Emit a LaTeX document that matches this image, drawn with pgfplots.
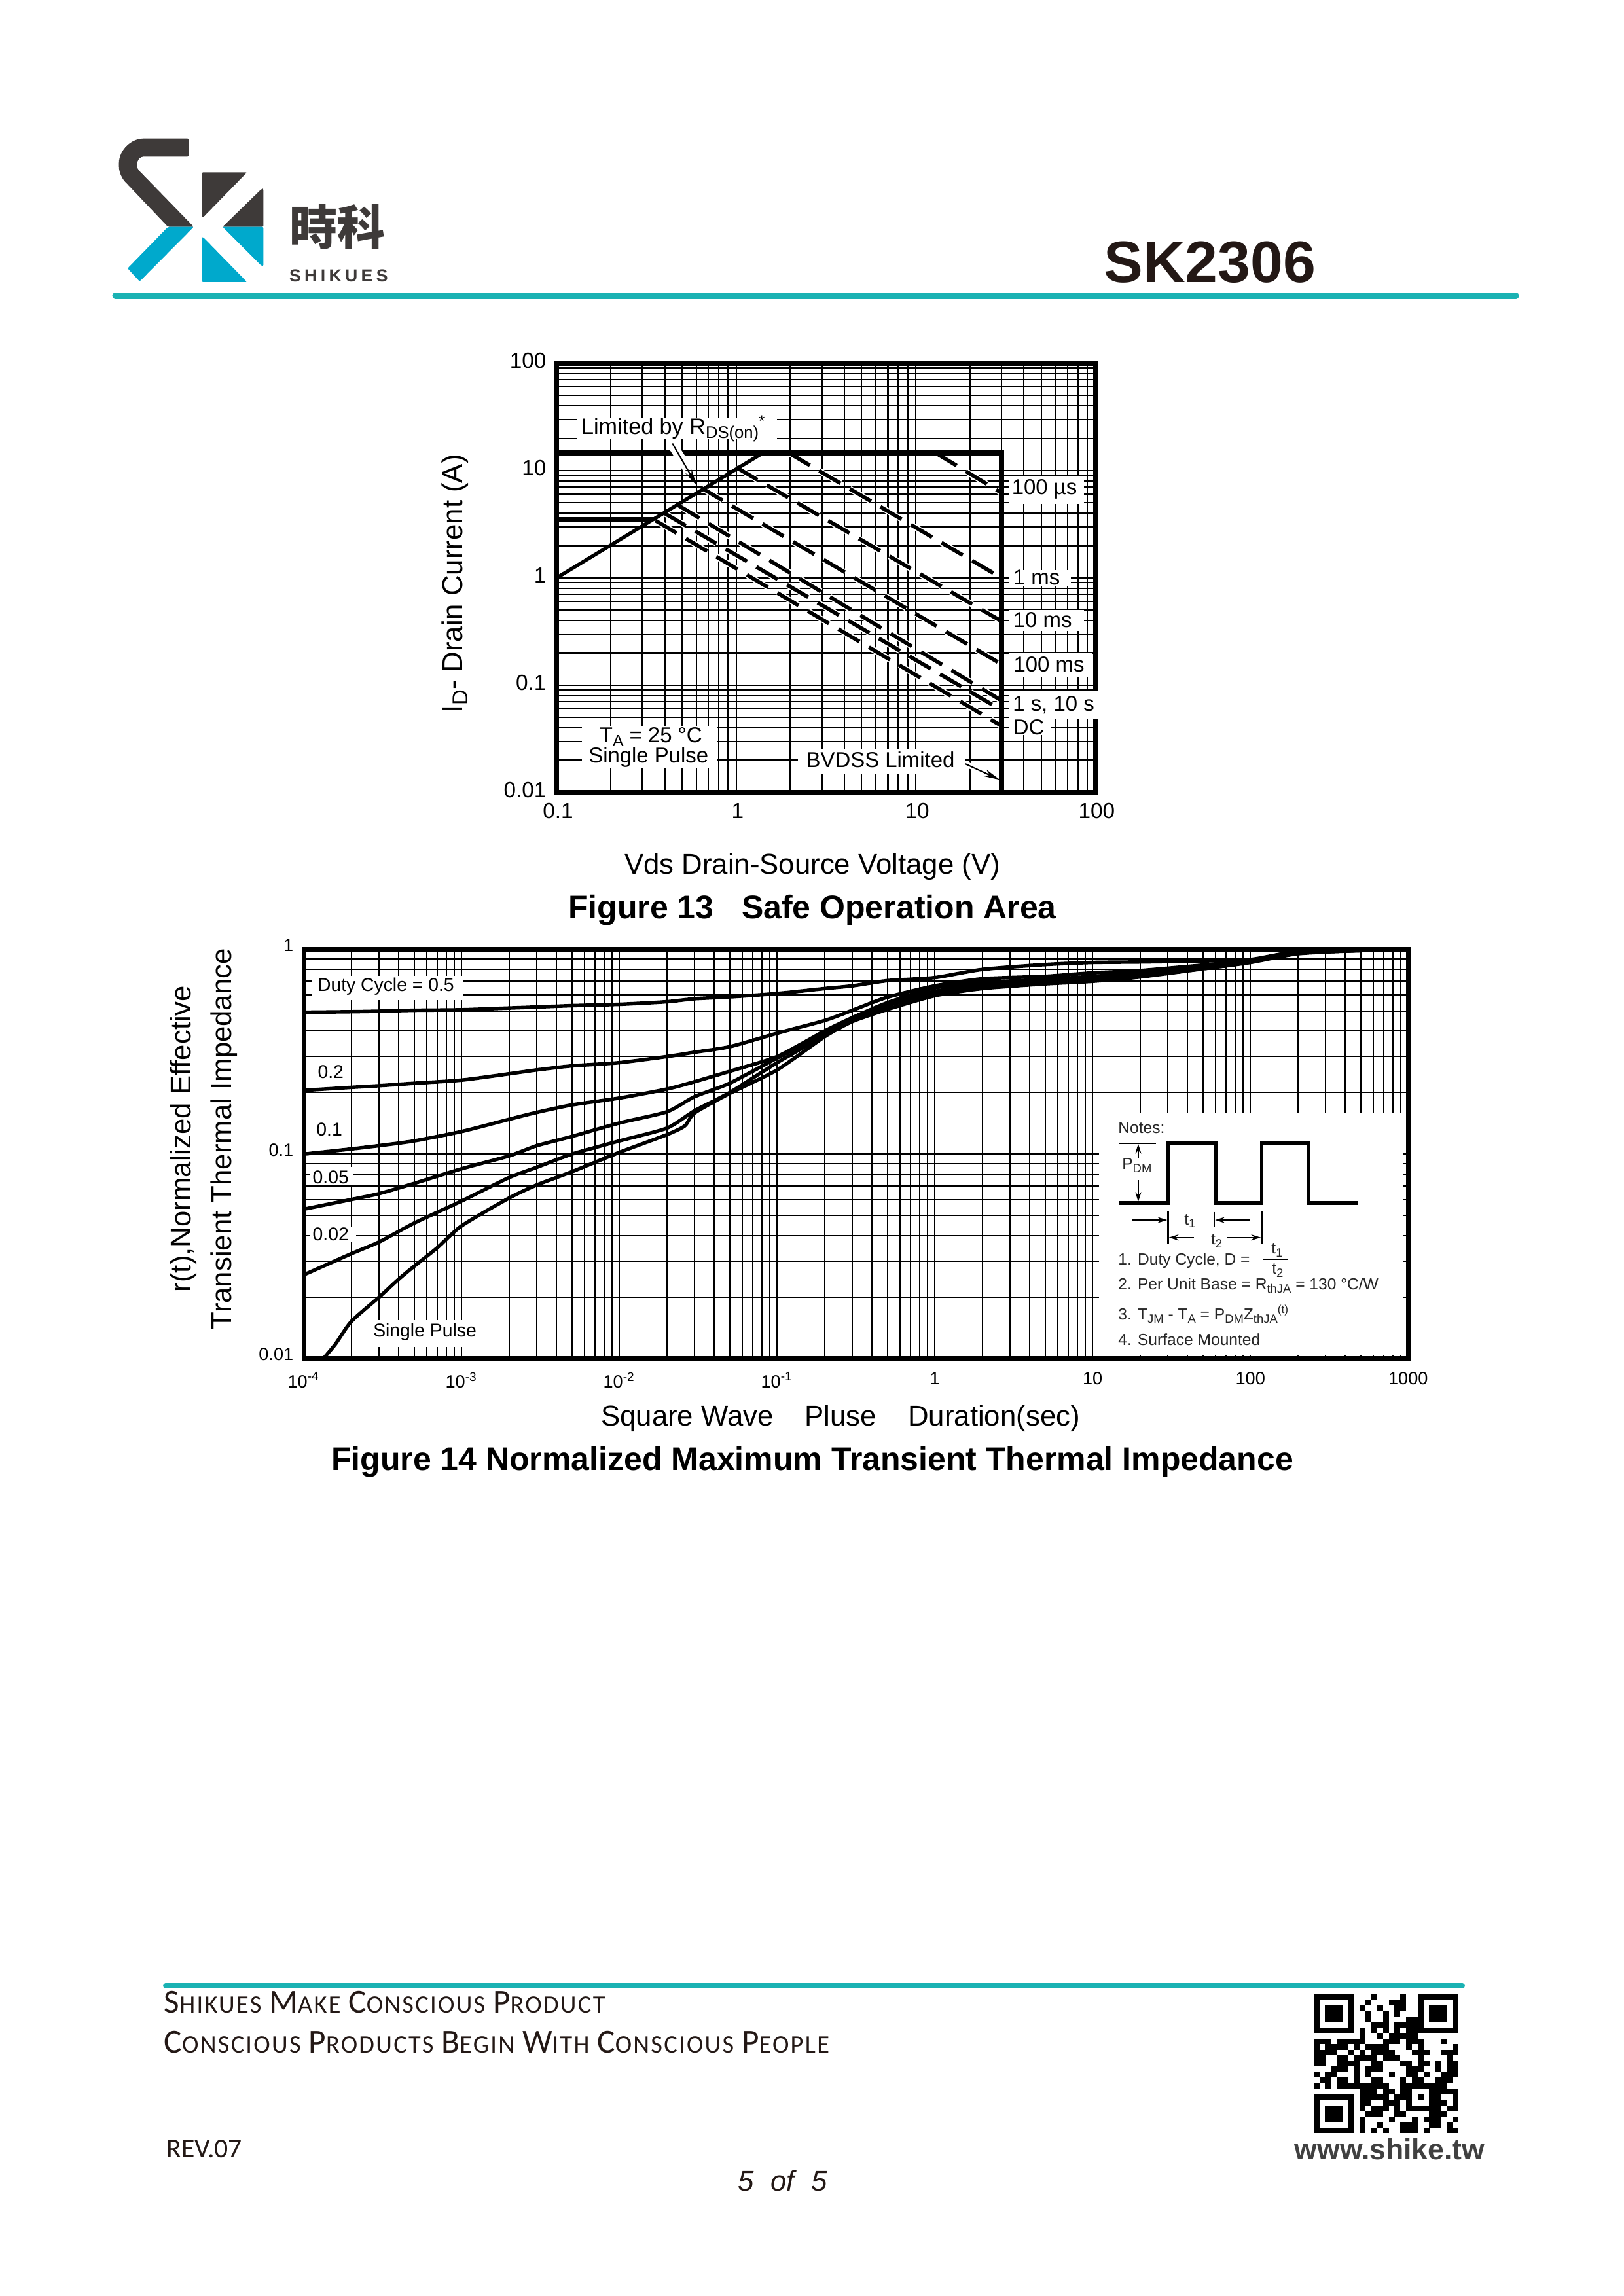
\documentclass[border=0pt]{standalone}
\usepackage{graphicx}
\usepackage{fontspec}
\usepackage{pgfplots}
\usepackage{pgfplotstable}
\pgfplotsset{compat=1.18}
\usetikzlibrary{arrows.meta}
\setmainfont{Liberation Sans}
\newfontfamily\cjk{Noto Sans CJK TC}
\newfontfamily\carlito[LetterSpace=6]{Carlito}
\newfontfamily\carlitoplain{Carlito}
\newfontfamily\logofont[LetterSpace=20]{Liberation Sans Bold}
\newcommand\fs[1]{\fontsize{#1}{#1}\selectfont}
\newcommand\sub[1]{\raisebox{-.35ex}{\scalebox{.75}{#1}}}
\definecolor{teal1}{HTML}{1AB2B3}
\definecolor{lgdark}{HTML}{3E3A39}
\definecolor{lgblue}{HTML}{00A9CC}
\definecolor{titlec}{HTML}{231815}
\pgfplotstableread{
x d5 d2 d1 d05 d02
1e-4 .494 .205 .1 .0538 .0257
2e-4 .497 .212 .106 .06 .0326
3e-4 .5 .216 .110 .0641 .0372
5e-4 .505 .222 .116 .0719 .046
1e-3 .508 .23 .129 .0848 .059
2e-3 .518 .247 .148 .098 .0768
3e-3 .524 .258 .160 .11 .0862
5e-3 .532 .27 .174 .122 .1
1e-2 .54 .28 .188 .142 .116
2e-2 .556 .30 .208 .161 .134
3e-2 .575 .315 .226 .191 .163
5e-2 .587 .335 .254 .222 .2
1e-1 .61 .39 .30 .295 .28
2e-1 .645 .45 .40 .39 .38
3e-1 .665 .505 .465 .46 .45
5e-1 .705 .585 .55 .54 .53
1 .73 .665 .65 .625 .615
2 .80 .72 .69 .675 .655
5 .845 .74 .715 .705 .69
10 .865 .77 .74 .725 .71
20 .87 .79 .77 .755 .745
50 .88 .84 .83 .82 .81
100 .895 .885 .88 .875 .87
200 .98 .97 .965 .96 .96
500 .995 .99 .99 .99 .99
1000 1 1 1 1 1
}\zthtable
\pgfplotstableread{
x y
1.33e-4 .01
1.59e-4 .0118
2e-4 .0152
3e-4 .02
4e-4 .0245
5e-4 .0283
7e-4 .0348
1e-3 .0446
2e-3 .061
3e-3 .0707
5e-3 .082
1e-2 .102
2e-2 .1245
2.6e-2 .1375
3e-2 .159
5e-2 .198
1e-1 .258
2e-1 .375
3e-1 .445
5e-1 .51
1 .595
2 .645
5 .68
10 .70
20 .735
50 .805
100 .865
200 .955
500 .99
1000 1
}\zthsingle
\begin{document}
\begin{tikzpicture}
\useasboundingbox (0pt,0pt) rectangle (595.2pt,-841.92pt);
% --- Figure 13
\begin{axis}[scale only axis,xmode=log,ymode=log,
  axis line style={line width=1.7pt},
  grid=both,
  major grid style={black,line width=.5pt},
  minor grid style={black,line width=.5pt},
  major tick length=0pt,minor tick length=0pt,
  tick style={draw=none},
  at={(204.1pt,-290.6pt)},anchor=south west,width=197.5pt,height=157.4pt,
  xmin=0.1,xmax=100,ymin=0.01,ymax=100,
  xtick={0.1,1,10,100},xticklabels={0.1,1,10,100},
  ytick={0.01,0.1,1,10,100},yticklabels={0.01,0.1,1,10,100},
  minor xtick={.2,.3,.4,.5,.6,.7,.8,.9,2,3,4,5,6,7,8,9,20,30,40,50,60,70,80,90},
  minor ytick={.02,.03,.04,.05,.06,.07,.08,.09,.2,.3,.4,.5,.6,.7,.8,.9,2,3,4,5,6,7,8,9,20,30,40,50,60,70,80,90},
  xticklabel style={font=\fs{8},yshift=-.4pt,xshift=.5pt},
  yticklabel style={font=\fs{8},yshift=1pt,xshift=-.3pt},
]
\addplot[white,line width=2.2pt,dash pattern=on 9pt off 4pt] coordinates {(12.9,14.6)(30,6.2)};
\addplot[white,line width=2.2pt,dash pattern=on 9pt off 4pt] coordinates {(1.96,14.6)(30,1)};
\addplot[white,line width=2.2pt,dash pattern=on 9pt off 4pt] coordinates {(1,10.7)(30,.395)};
\addplot[white,line width=2.2pt,dash pattern=on 9pt off 4pt] coordinates {(.64,6.88)(30,.157)};
\addplot[white,line width=2.2pt,dash pattern=on 9pt off 4pt] coordinates {(.476,4.74)(30,.072)};
\addplot[white,line width=2.2pt,dash pattern=on 9pt off 4pt] coordinates {(.399,4)(30,.0587)};
\addplot[white,line width=2.2pt,dash pattern=on 9pt off 4pt] coordinates {(.355,3.42)(30,.0418)};
\addplot[black,line width=1.4pt,dash pattern=on 9pt off 4pt] coordinates {(12.9,14.6)(30,6.2)};
\addplot[black,line width=1.4pt,dash pattern=on 9pt off 4pt] coordinates {(1.96,14.6)(30,1)};
\addplot[black,line width=1.4pt,dash pattern=on 9pt off 4pt] coordinates {(1,10.7)(30,.395)};
\addplot[black,line width=1.4pt,dash pattern=on 9pt off 4pt] coordinates {(.64,6.88)(30,.157)};
\addplot[black,line width=1.4pt,dash pattern=on 9pt off 4pt] coordinates {(.476,4.74)(30,.072)};
\addplot[black,line width=1.4pt,dash pattern=on 9pt off 4pt] coordinates {(.399,4)(30,.0587)};
\addplot[black,line width=1.4pt,dash pattern=on 9pt off 4pt] coordinates {(.355,3.42)(30,.0418)};
\addplot[black,line width=1.3pt] coordinates {(.1,1)(1.41,14.6)};
\addplot[black,line width=1.9pt] coordinates {(.1,14.6)(30,14.6)(30,.01)};
\addplot[black,line width=1.9pt] coordinates {(.1,3.5)(.344,3.5)};
\end{axis}
% --- Figure 14
\begin{axis}[scale only axis,xmode=log,ymode=log,
  axis line style={line width=1.7pt},
  grid=both,
  major grid style={black,line width=.5pt},
  minor grid style={black,line width=.5pt},
  major tick length=0pt,minor tick length=0pt,
  tick style={draw=none},
  at={(111.4pt,-498.2pt)},anchor=south west,width=404.9pt,height=150pt,
  xmin=1e-4,xmax=1000,ymin=0.01,ymax=1,
  xtick={1e-4,1e-3,1e-2,1e-1,1,10,100,1000},
  xticklabels={10\textsuperscript{-4},10\textsuperscript{-3},10\textsuperscript{-2},10\textsuperscript{-1},1,10,100,1000},
  ytick={0.01,0.1,1},yticklabels={0.01,0.1,1},
  minor xtick={2e-4,3e-4,4e-4,5e-4,6e-4,7e-4,8e-4,9e-4,2e-3,3e-3,4e-3,5e-3,6e-3,7e-3,8e-3,9e-3,.02,.03,.04,.05,.06,.07,.08,.09,.2,.3,.4,.5,.6,.7,.8,.9,2,3,4,5,6,7,8,9,20,30,40,50,60,70,80,90,200,300,400,500,600,700,800,900},
  minor ytick={.02,.03,.04,.05,.06,.07,.08,.09,.2,.3,.4,.5,.6,.7,.8,.9},
  xticklabel style={font=\fs{6.5},yshift=-1.5pt},
  yticklabel style={font=\fs{6.5},yshift=1.5pt,xshift=-.3pt},
]
\addplot[black,line width=1.3pt,smooth,tension=.4] table[x=x,y=d5] {\zthtable};
\addplot[black,line width=1.3pt,smooth,tension=.4] table[x=x,y=d2] {\zthtable};
\addplot[black,line width=1.3pt,smooth,tension=.4] table[x=x,y=d1] {\zthtable};
\addplot[black,line width=1.3pt,smooth,tension=.4] table[x=x,y=d05] {\zthtable};
\addplot[black,line width=1.3pt,smooth,tension=.4] table[x=x,y=d02] {\zthtable};
\addplot[black,line width=1.3pt,smooth,tension=.4] table[x=x,y=y] {\zthsingle};
\end{axis}
\begin{scope}[x=.24pt,y=-.24pt]
% header
\begin{scope}[shift={(150,180)},x=.08pt,y=-.08pt]
\fill[lgdark,rounded corners=.5pt] (415,95) -- (215,95) .. controls (150,95) and (95,150) .. (95,215) .. controls (95,250) and (110,280) .. (130,300) -- (320,500) -- (438,500) -- (190,245) .. controls (170,222) and (178,178) .. (215,178) -- (415,178) -- cycle;
\fill[lgblue,rounded corners=.5pt] (320,500) -- (135,690) -- (190,750) -- (438,500) -- cycle;
\fill[lgdark,rounded corners=.5pt] (475,250) -- (682,250) -- (482,455) -- (475,455) -- cycle;
\fill[lgdark,rounded corners=.5pt] (570,500) -- (750,325) -- (757,325) -- (757,500) -- cycle;
\fill[lgblue,rounded corners=.5pt] (570,500) -- (757,500) -- (757,680) -- (750,680) -- cycle;
\fill[lgblue,rounded corners=.5pt] (475,548) -- (482,548) -- (682,753) -- (475,753) -- cycle;
\node[lgdark,font=\cjk\bfseries\fs{17.5}] at (1097,500) {時科};
\node[lgdark,font=\logofont\fs{6.4}] at (1102,724) {SHIKUES};
\end{scope}
\node[anchor=base east,font=\bfseries\fs{21.5},text=titlec,inner sep=0] at (2011,432) {SK2306};
\draw[teal1,line width=2.2pt,line cap=round] (176,452) -- (2316,452);
% Fig 13 text boxes
\begin{scope}[shift={(640,520)},x=.16836pt,y=-.11633pt]
\fill[white] (345,245) rectangle (780,310);
\fill[white] (1285,430) rectangle (1448,515);
\fill[white] (1285,725) rectangle (1420,775);
\fill[white] (1285,850) rectangle (1448,915);
\fill[white] (1285,985) rectangle (1465,1060);
\fill[white] (1285,1105) rectangle (1485,1192);
\fill[white] (1285,1195) rectangle (1375,1245);
\fill[white] (355,1215) rectangle (650,1350);
\fill[white] (825,1288) rectangle (1190,1365);
\draw[white,line width=3.5pt] (552,330) -- (585,405);
\draw[black,line width=.5pt,-{Stealth[length=6pt,width=2.6pt]}] (552,325) -- (605,458);
\draw[white,line width=2pt] (1195,1338) -- (1250,1375);
\draw[black,line width=.5pt,-{Stealth[length=6pt,width=2.6pt]}] (1190,1335) -- (1265,1385);
\node[font=\fs{8.2},inner sep=0] at (555,278) {Limited by R\sub{DS(on)}\textsuperscript{*}};
\node[font=\fs{7.9},inner sep=0] at (1362,470) {100 µs};
\node[font=\fs{7.9},inner sep=0] at (1345,748) {1 ms};
\node[font=\fs{7.9},inner sep=0] at (1358,882) {10 ms};
\node[font=\fs{7.9},inner sep=0] at (1372,1022) {100 ms};
\node[font=\fs{7.9},inner sep=0] at (1382,1150) {1 s, 10 s};
\node[font=\fs{7.9},inner sep=0] at (1328,1220) {DC};
\node[font=\fs{7.9},inner sep=0] at (505,1250) {T\sub{A} = 25 °C};
\node[font=\fs{7.9},inner sep=0] at (500,1315) {Single Pulse};
\node[font=\fs{7.9},inner sep=0] at (1005,1322) {BVDSS Limited};
\end{scope}
% Fig 14 text boxes
\begin{scope}[shift={(400,1420)},x=.16836pt,y=-.1102pt]
\fill[white] (108,155) rectangle (438,235);
\fill[white] (105,790) rectangle (200,850);
\fill[white] (105,990) rectangle (205,1040);
\fill[white] (240,1300) rectangle (470,1390);
\node[font=\fs{6.8},inner sep=0] at (270,190) {Duty Cycle = 0.5};
\node[font=\fs{6.8},inner sep=0] at (150,475) {0.2};
\node[font=\fs{6.8},inner sep=0] at (147,665) {0.1};
\node[font=\fs{6.8},inner sep=0] at (150,825) {0.05};
\node[font=\fs{6.8},inner sep=0] at (150,1015) {0.02};
\node[font=\fs{6.8},inner sep=0] at (355,1340) {Single Pulse};
\end{scope}
\begin{scope}[shift={(1500,1420)},x=.10714pt,y=-.1102pt]
\fill[white] (400,610) rectangle (1440,1415);
\draw[black,line width=1.3pt,line join=miter] (470,910) -- (637,910) -- (637,712) -- (802,712) -- (802,910) -- (957,910) -- (957,712) -- (1116,712) -- (1116,910) -- (1285,910);
\draw[black,line width=.7pt] (468,712) -- (595,712);
\tikzset{na/.style={black,line width=.4pt,-{Stealth[length=3.5pt,width=2.2pt]}}}
\draw[na] (535,760) -- (535,714);
\draw[na] (535,835) -- (535,906);
\draw[na] (515,967) -- (634,967);
\draw[na] (915,967) -- (798,967);
\draw[na] (725,1025) -- (640,1025);
\draw[na] (838,1025) -- (954,1025);
\draw[black,line width=.6pt] (637,938) -- (637,1045);
\draw[black,line width=.6pt] (795,940) -- (795,990);
\draw[black,line width=.6pt] (957,938) -- (957,1045);
\draw[black,line width=.5pt] (963,1097) -- (1045,1097);
\tikzset{nt/.style={font=\fs{5.9},inner sep=0,anchor=west,text=black!85}}
\node[nt] at (465,660) {Notes:};
\node[nt] at (478,785) {P\sub{DM}};
\node[nt,anchor=center] at (712,970) {t\sub{1}};
\node[nt,anchor=center] at (803,1037) {t\sub{2}};
\node[nt,anchor=center] at (1010,1067) {t\sub{1}};
\node[nt,anchor=center] at (1012,1135) {t\sub{2}};
\node[nt] at (465,1103) {1. Duty Cycle, D =};
\node[nt] at (465,1185) {2. Per Unit Base = R\sub{thJA} = 130 °C/W};
\node[nt] at (465,1280) {3. T\sub{JM} - T\sub{A} = P\sub{DM}Z\sub{thJA}\textsuperscript{(t)}};
\node[nt] at (465,1365) {4. Surface Mounted};
\end{scope}
% axis labels and captions
\node[rotate=90,font=\fs{10.5}] at (695,892) {I\sub{D}- Drain Current (A)};
\node[font=\fs{10.5}] at (1241,1324) {Vds Drain-Source Voltage (V)};
\node[font=\bfseries\fs{12}] at (1241,1391) {Figure 13\hspace{.85em}Safe Operation Area};
\node[rotate=90,font=\fs{10.5}] at (280,1740) {r(t),Normalized Effective};
\node[rotate=90,font=\fs{10.5}] at (342,1740) {Transient Thermal Impedance};
\node[font=\fs{10.5}] at (1284,2167) {Square Wave\hspace{1.1em}Pluse\hspace{1.1em}Duration(sec)};
\node[font=\bfseries\fs{12}] at (1241,2234) {Figure 14 Normalized Maximum Transient Thermal Impedance};
% footer
\draw[teal1,line width=1.9pt,line cap=round] (253,3034) -- (2234,3034);
\newcommand\bs[2]{{\fs{12.3}#1}{\fs{9.2}#2}}
\node[anchor=base west,inner sep=0,font=\carlito,text=titlec] at (250,3075) {\bs{S}{HIKUES} \bs{M}{AKE} \bs{C}{ONSCIOUS} \bs{P}{RODUCT}};
\node[anchor=base west,inner sep=0,font=\carlito,text=titlec] at (250,3136) {\bs{C}{ONSCIOUS} \bs{P}{RODUCTS} \bs{B}{EGIN} \bs{W}{ITH} \bs{C}{ONSCIOUS} \bs{P}{EOPLE}};
\node[anchor=base west,inner sep=0,font=\carlitoplain\fs{10},text=titlec] at (254,3296) {REV.07};
\node[anchor=base west,inner sep=0,font=\itshape\fs{10.5},text=titlec] at (1127,3347) {5\hspace{.3em} of\hspace{.3em} 5};
\node[font=\bfseries\fs{10.7},text=black!75] at (2123,3283) {www.shike.tw};
% QR
\begin{scope}[shift={(2006.7,3046.7)},x=2.12pt,y=-2.04pt]
\foreach \cx/\cy in {0/0,18/0,0/18}{
 \draw[black,line width=2.1pt] (\cx+.5,\cy+.5) rectangle (\cx+6.5,\cy+6.5);
 \fill[black] (\cx+2,\cy+2) rectangle (\cx+5,\cy+5);
}
\foreach \r/\cols in {0/{10,15},1/{9,13,14,15},2/{8,11,14,15},3/{9,12,14},4/{9,12,16,17},5/{10,11,12,14,15,16,17},
6/{8,10,12,14,16,17},7/{8,11,13,14,15,16,17},8/{0,1,2,4,5,6,7,8,12,13,14,16,17,18,22},
9/{0,2,3,4,5,7,9,10,11,12,16,18,24},10/{0,1,2,3,6,8,10,11,12,13,17,18,19,22,23,24},
11/{0,1,4,5,7,8,9,10,12,13,14,18,23},12/{0,1,4,5,6,7,10,11,15,16,18,19,21,23,24},
13/{3,4,5,7,9,10,11,16,17,18,21,23,24},14/{0,2,3,7,9,13,16,17,19,22,23,24},
15/{1,2,4,5,7,10,11,15,17,18,21,22,23},16/{0,2,4,5,6,7,8,9,10,11,12,15,16,17,18,19,20,21,22},
17/{8,9,10,12,13,15,16,20,21,22,23,24},18/{8,9,10,11,12,14,15,16,18,20,21,24},
19/{8,9,12,13,14,16,20,21,22,24},20/{8,10,11,12,14,16,17,18,19,20,21,23,24},
21/{9,10,11,14,15,20,21,22},22/{8,13,17,19,20,21,24},23/{8,11,15,16,17,20,21,23},24/{8,10,12,15,16,17,19,23,24}}{
 \foreach \c in \cols {\fill[black] (\c,\r) rectangle (\c+1.02,\r+1.02);}
}
\end{scope}
\end{scope}
\end{tikzpicture}
\end{document}
